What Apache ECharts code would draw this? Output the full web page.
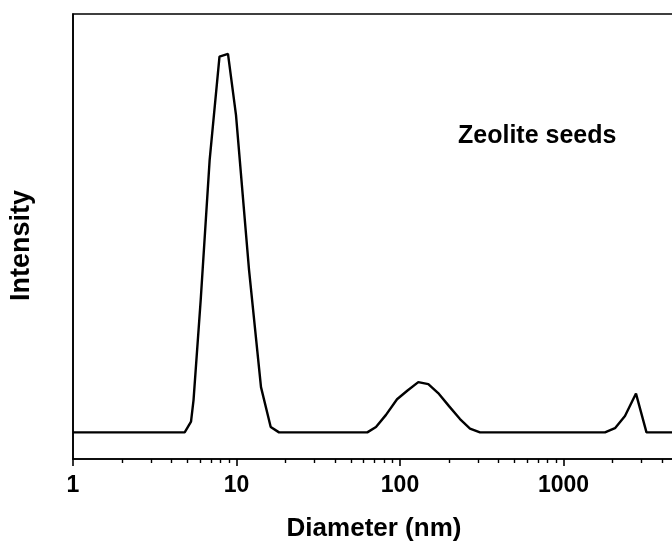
<!DOCTYPE html>
<html>
<head>
<meta charset="utf-8">
<script src="https://cdn.jsdelivr.net/npm/echarts@6/dist/echarts.min.js"></script>
<style>
  html, body { margin: 0; padding: 0; background: #fff; }
  #chart { width: 672px; height: 546px; }
</style>
</head>
<body>
<div id="chart"></div>
<script>
// Particle size distribution (DLS), intensity vs. hydrodynamic diameter
const diameters = [1, 4.82, 5.27, 5.46, 6.04, 6.85, 7.87, 8.87, 9.93, 11.93, 14.12, 16.19, 18.2,
  63.1, 71.3, 82.1, 95.9, 111.2, 129.4, 149.0, 173.2, 199.4, 232.8, 268.0, 308.5,
  1794, 2065, 2377, 2776, 3218, 10000];
const intensity = [0, 0, 2.8, 8.5, 34.8, 71.6, 98.8, 99.5, 83.4, 42.7, 11.9, 1.4, 0,
  0, 1.4, 4.6, 8.7, 11.0, 13.2, 12.7, 10.1, 6.9, 3.5, 1.0, 0,
  0, 1.1, 4.3, 10.2, 0, 0];

const majorTicks = [1, 10, 100, 1000, 10000];
const minorTicks = [];
for (const decade of [1, 10, 100, 1000]) {
  for (let m = 2; m <= 9; m++) minorTicks.push(m * decade);
}
const sampleLabel = 'Zeolite seeds';

const FONT = '"Liberation Sans", Arial, sans-serif';
const INK = '#000';

const chart = echarts.init(document.getElementById('chart'), null, { renderer: 'canvas' });

const logAxisBase = { type: 'log', logBase: 10, min: 1, max: 10000, position: 'bottom' };

chart.setOption({
  animation: false,
  backgroundColor: '#fff',
  grid: {
    left: 73, top: 14, bottom: 87, right: -55,
    outerBoundsMode: 'none',
    containLabel: false,
    show: true, borderColor: INK, borderWidth: 1.6, backgroundColor: 'transparent'
  },
  xAxis: [
    Object.assign({}, logAxisBase, {
      name: 'Diameter (nm)',
      nameLocation: 'middle',
      nameGap: 57,
      nameTextStyle: { fontFamily: FONT, fontWeight: 'bold', fontSize: 26, color: INK, padding: [0, 52, 0, 0] },
      axisLine: { show: true, onZero: false, lineStyle: { color: INK, width: 1.6 } },
      axisTick: { show: true, inside: false, length: 7, customValues: majorTicks, lineStyle: { color: INK, width: 1.6 } },
      axisLabel: {
        show: true, customValues: majorTicks, margin: 15,
        fontFamily: FONT, fontWeight: 'bold', fontSize: 23, color: INK,
        formatter: v => String(Math.round(v))
      },
      splitLine: { show: false }
    }),
    Object.assign({}, logAxisBase, {
      axisLine: { show: false, onZero: false },
      axisTick: { show: true, inside: false, length: 4, customValues: minorTicks, lineStyle: { color: INK, width: 1.4 } },
      axisLabel: { show: false },
      splitLine: { show: false }
    })
  ],
  yAxis: {
    type: 'value', min: -7, max: 110,
    name: 'Intensity',
    nameLocation: 'middle',
    nameRotate: 90,
    nameGap: 38,
    nameTextStyle: { fontFamily: FONT, fontWeight: 'bold', fontSize: 27, color: INK, padding: [0, 18, 0, 0] },
    axisLine: { show: true, onZero: false, lineStyle: { color: INK, width: 1.6 } },
    axisTick: { show: false },
    axisLabel: { show: false },
    splitLine: { show: false }
  },
  graphic: [{
    type: 'text',
    left: 458, top: 124,
    style: { text: sampleLabel, font: 'bold 25px ' + FONT, fill: INK }
  }],
  series: [{
    type: 'line',
    xAxisIndex: 0,
    data: diameters.map((d, i) => [d, intensity[i]]),
    showSymbol: false,
    symbol: 'none',
    clip: true,
    lineStyle: { color: INK, width: 2.4 }
  }]
});
</script>
</body>
</html>
